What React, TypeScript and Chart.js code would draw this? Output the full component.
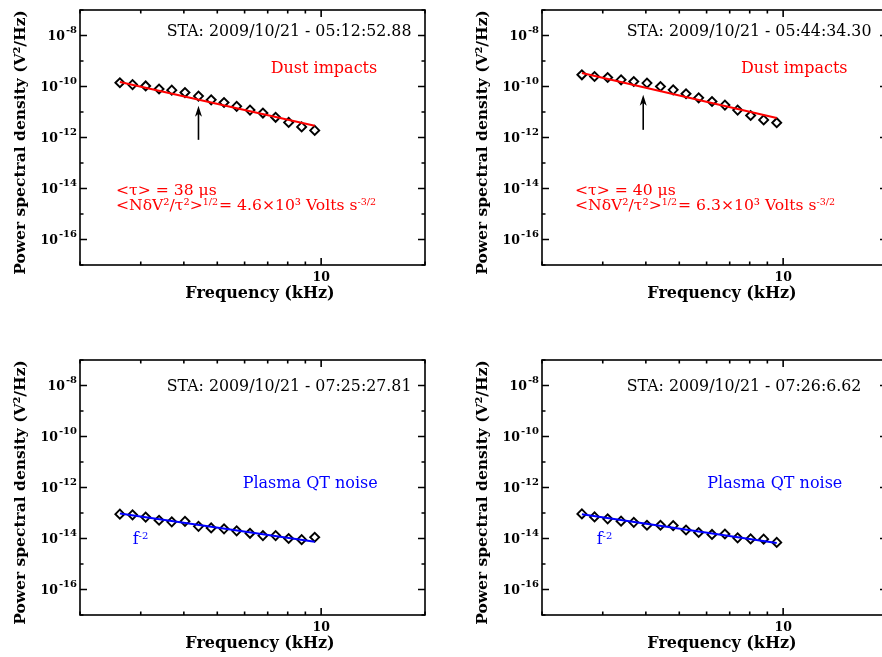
import React, { useEffect, useRef } from "react";
import { Chart, registerables } from "chart.js";

Chart.register(...registerables);

// ---------------- data ----------------
const FREQ_KHZ = [2.61, 2.84, 3.1, 3.39, 3.69, 4.03, 4.41, 4.8, 5.23, 5.69, 6.22, 6.78, 7.38, 8.05, 8.78, 9.58];
const FIT_FREQ_KHZ = [2.61, 9.58];

const PSD_051252 = [1.4e-10, 1.19e-10, 1.05e-10, 8.0e-11, 7.2e-11, 5.8e-11, 4.2e-11, 3.0e-11, 2.36e-11, 1.67e-11, 1.19e-11, 9.1e-12, 6.2e-12, 3.9e-12, 2.6e-12, 1.9e-12];
const FIT_051252 = [1.5e-10, 2.9e-12];

const PSD_054434 = [2.88e-10, 2.47e-10, 2.25e-10, 1.83e-10, 1.57e-10, 1.36e-10, 1.0e-10, 7.4e-11, 5.2e-11, 3.6e-11, 2.58e-11, 1.87e-11, 1.19e-11, 7.3e-12, 4.9e-12, 3.8e-12];
const FIT_054434 = [3.4e-10, 5.8e-12];

const PSD_072527 = [9.0e-14, 8.5e-14, 6.9e-14, 5.2e-14, 4.5e-14, 4.7e-14, 3.0e-14, 2.6e-14, 2.4e-14, 2.0e-14, 1.6e-14, 1.3e-14, 1.3e-14, 1.0e-14, 9.0e-15, 1.12e-14];
const FIT_072527 = [9.5e-14, 7.4e-15];

const PSD_072606 = [9.2e-14, 7.0e-14, 5.9e-14, 4.8e-14, 4.3e-14, 3.3e-14, 3.3e-14, 3.2e-14, 2.15e-14, 1.72e-14, 1.44e-14, 1.5e-14, 1.06e-14, 9.6e-15, 9.4e-15, 7.0e-15];
const FIT_072606 = [9.0e-14, 6.7e-15];

// arrows marking 1/(2 pi tau) in the dust panels
const ARROW_KHZ = [4.41, 3.93];
const ARROW_TIP = [1.75e-11, 4.7e-11];
const ARROW_TAIL = [8.1e-13, 2.0e-12];

const TIME_LABELS = [
  "STA: 2009/10/21 - 05:12:52.88",
  "STA: 2009/10/21 - 05:44:34.30",
  "STA: 2009/10/21 - 07:25:27.81",
  "STA: 2009/10/21 - 07:26:6.62",
];
const TAU_LABELS = ["<τ> = 38 μs", "<τ> = 40 μs"];
const AMP_LABELS = ["4.6×10³", "6.3×10³"];

const X_TICKS_KHZ = [2, 3, 4, 5, 6, 7, 8, 9, 10, 20];
const X_LABELLED_KHZ = [10];
const Y_TICK_EXPONENTS = [-17, -16, -15, -14, -13, -12, -11, -10, -9, -8, -7];
const Y_LABELLED_EXPONENTS = [-16, -14, -12, -10, -8];

const X_MIN = 2;
const X_MAX = 20;
const Y_MIN = 1e-17;
const Y_MAX = 1e-7;

// ---------------- styling ----------------
const RED = "#ff0000";
const BLUE = "#0000ff";
const SERIF = '"DejaVu Serif", serif';
const CANVAS_W = 441;
const CANVAS_H = 320;
const AREA_LEFT = 80;
const AREA_TOP = 10;
const AREA_RIGHT = 425;
const AREA_BOTTOM = 265;

type Seg = { t: string; sup?: boolean };
type Note = { segs: Seg[]; dx: number; dy: number; color: string; size: number; supSize?: number };

type PanelCfg = {
  psd: number[];
  fit: number[];
  fitColor: string;
  notes: Note[];
  arrow?: { f: number; tip: number; tail: number };
};

function drawRich(ctx: CanvasRenderingContext2D, segs: Seg[], x: number, y: number, size: number, supSize: number, raise: number) {
  let cx = x;
  for (const s of segs) {
    ctx.font = `normal ${s.sup ? supSize : size}px ${SERIF}`;
    ctx.fillText(s.t, cx, s.sup ? y - raise : y);
    cx += ctx.measureText(s.t).width + (s.sup ? 1 : 0);
  }
}

function makeDecor(cfg: PanelCfg) {
  return {
    id: "panelDecor",
    afterDraw(chart: any) {
      const { ctx, chartArea: ca, scales } = chart;
      const xs = scales.x;
      const ys = scales.y;
      ctx.save();
      // frame
      ctx.strokeStyle = "#000";
      ctx.lineWidth = 1.6;
      ctx.strokeRect(ca.left, ca.top, ca.right - ca.left, ca.bottom - ca.top);
      // inward ticks
      ctx.beginPath();
      for (const t of ys.ticks) {
        const py = ys.getPixelForValue(t.value);
        const e = Math.round(Math.log10(t.value));
        const len = Y_LABELLED_EXPONENTS.includes(e) ? 7 : 3.5;
        ctx.moveTo(ca.left, py);
        ctx.lineTo(ca.left + len, py);
        ctx.moveTo(ca.right, py);
        ctx.lineTo(ca.right - len, py);
      }
      for (const t of xs.ticks) {
        const px = xs.getPixelForValue(t.value);
        const len = X_LABELLED_KHZ.includes(t.value) ? 7 : 3.5;
        ctx.moveTo(px, ca.bottom);
        ctx.lineTo(px, ca.bottom - len);
        ctx.moveTo(px, ca.top);
        ctx.lineTo(px, ca.top + len);
      }
      ctx.stroke();

      // y tick labels 10^n
      ctx.fillStyle = "#000";
      ctx.textBaseline = "alphabetic";
      ctx.textAlign = "left";
      for (const t of ys.ticks) {
        const e = Math.round(Math.log10(t.value));
        if (!Y_LABELLED_EXPONENTS.includes(e)) continue;
        const py = ys.getPixelForValue(t.value);
        const expStr = "-" + Math.abs(e);
        ctx.font = `bold 10px ${SERIF}`;
        const w2 = ctx.measureText(expStr).width;
        ctx.font = `bold 12.5px ${SERIF}`;
        const w1 = ctx.measureText("10").width;
        const xr = ca.left - 3;
        ctx.fillText("10", xr - w2 - 1 - w1, py + 4.3);
        ctx.font = `bold 10px ${SERIF}`;
        ctx.fillText(expStr, xr - w2, py - 3);
      }
      // x tick labels
      ctx.textAlign = "center";
      ctx.font = `bold 12.5px ${SERIF}`;
      for (const t of xs.ticks) {
        if (!X_LABELLED_KHZ.includes(t.value)) continue;
        const px = xs.getPixelForValue(t.value);
        ctx.fillText(String(t.value), px, ca.bottom + 15.5);
      }
      // axis titles
      ctx.font = `bold 16px ${SERIF}`;
      ctx.fillText("Frequency (kHz)", ca.left + 180, ca.bottom + 33);
      ctx.save();
      ctx.translate(ca.left - 55, ca.top + 132.5);
      ctx.rotate(-Math.PI / 2);
      ctx.font = `bold 15.5px ${SERIF}`;
      ctx.fillText("Power spectral density (V²/Hz)", 0, 0);
      ctx.restore();

      // annotations
      ctx.textAlign = "left";
      for (const n of cfg.notes) {
        ctx.fillStyle = n.color;
        drawRich(ctx, n.segs, ca.left + n.dx, ca.top + n.dy, n.size, n.supSize ?? 10, 5.5);
      }

      // arrow
      if (cfg.arrow) {
        const ax = xs.getPixelForValue(cfg.arrow.f);
        const tipY = ys.getPixelForValue(cfg.arrow.tip);
        const tailY = ys.getPixelForValue(cfg.arrow.tail);
        ctx.strokeStyle = "#000";
        ctx.fillStyle = "#000";
        ctx.lineWidth = 1.6;
        ctx.beginPath();
        ctx.moveTo(ax, tailY);
        ctx.lineTo(ax, tipY + 6);
        ctx.stroke();
        ctx.beginPath();
        ctx.moveTo(ax, tipY);
        ctx.lineTo(ax - 3.5, tipY + 11);
        ctx.lineTo(ax, tipY + 8);
        ctx.lineTo(ax + 3.5, tipY + 11);
        ctx.closePath();
        ctx.fill();
      }
      ctx.restore();
    },
  };
}

function Panel({ cfg, left, top }: { cfg: PanelCfg; left: number; top: number }) {
  const ref = useRef<HTMLCanvasElement>(null);
  useEffect(() => {
    if (!ref.current) return;
    const chart = new Chart(ref.current, {
      type: "scatter",
      data: {
        datasets: [
          {
            data: FIT_FREQ_KHZ.map((f, i) => ({ x: f, y: cfg.fit[i] })),
            showLine: true,
            borderColor: cfg.fitColor,
            borderWidth: 2,
            pointRadius: 0,
            order: 0,
          },
          {
            data: FREQ_KHZ.map((f, i) => ({ x: f, y: cfg.psd[i] })),
            showLine: false,
            pointStyle: "rectRot",
            pointRadius: 4.5,
            borderColor: "#000",
            borderWidth: 1.9,
            backgroundColor: "rgba(0,0,0,0)",
            order: 1,
          },
        ],
      },
      options: {
        animation: false,
        responsive: false,
        devicePixelRatio: 1,
        layout: { padding: { left: 0, top: AREA_TOP, right: CANVAS_W - AREA_RIGHT, bottom: 0 } },
        plugins: { legend: { display: false }, tooltip: { enabled: false } },
        scales: {
          x: {
            type: "logarithmic",
            min: X_MIN,
            max: X_MAX,
            afterBuildTicks: (s: any) => {
              s.ticks = X_TICKS_KHZ.map((v) => ({ value: v }));
            },
            afterFit: (s: any) => {
              s.height = CANVAS_H - AREA_BOTTOM;
            },
            ticks: { display: false },
            grid: { display: false, drawTicks: false },
            border: { display: false },
          },
          y: {
            type: "logarithmic",
            min: Y_MIN,
            max: Y_MAX,
            afterBuildTicks: (s: any) => {
              s.ticks = Y_TICK_EXPONENTS.map((e) => ({ value: Math.pow(10, e) }));
            },
            afterFit: (s: any) => {
              s.width = AREA_LEFT;
            },
            ticks: { display: false },
            grid: { display: false, drawTicks: false },
            border: { display: false },
          },
        },
      } as any,
      plugins: [makeDecor(cfg)],
    });
    return () => chart.destroy();
  }, [cfg]);
  return (
    <canvas
      ref={ref}
      width={CANVAS_W}
      height={CANVAS_H}
      style={{ position: "absolute", left, top, width: CANVAS_W, height: CANVAS_H }}
    />
  );
}

const dustNotes = (k: number, timeDx: number, labelDx: number, noteDx: number): Note[] => [
  { segs: [{ t: TIME_LABELS[k] }], dx: timeDx, dy: 26, color: "#000", size: 15.8 },
  { segs: [{ t: "Dust impacts" }], dx: labelDx, dy: 63.3, color: RED, size: 16 },
  { segs: [{ t: TAU_LABELS[k] }], dx: noteDx, dy: 185, color: RED, size: 15.6 },
  {
    segs: [
      { t: "<NδV²/τ²>" },
      { t: "1/2", sup: true },
      { t: "= " + AMP_LABELS[k] + " Volts s" },
      { t: "-3/2", sup: true },
    ],
    dx: noteDx,
    dy: 200,
    color: RED,
    size: 15.6,
    supSize: 9.5,
  },
];

const plasmaNotes = (k: number, timeDx: number, labelDx: number, fDx: number): Note[] => [
  { segs: [{ t: TIME_LABELS[k] }], dx: timeDx, dy: 30.5, color: "#000", size: 15.8 },
  { segs: [{ t: "Plasma QT noise" }], dx: labelDx, dy: 128, color: BLUE, size: 16 },
  { segs: [{ t: "f" }, { t: "-2", sup: true }], dx: fDx, dy: 184, color: BLUE, size: 16 },
];

const PANELS: { cfg: PanelCfg; left: number; top: number }[] = [
  {
    left: 0,
    top: 0,
    cfg: {
      psd: PSD_051252,
      fit: FIT_051252,
      fitColor: RED,
      notes: dustNotes(0, 86.7, 190.7, 36),
      arrow: { f: ARROW_KHZ[0], tip: ARROW_TIP[0], tail: ARROW_TAIL[0] },
    },
  },
  {
    left: 462,
    top: 0,
    cfg: {
      psd: PSD_054434,
      fit: FIT_054434,
      fitColor: RED,
      notes: dustNotes(1, 84.7, 199, 33),
      arrow: { f: ARROW_KHZ[1], tip: ARROW_TIP[1], tail: ARROW_TAIL[1] },
    },
  },
  {
    left: 0,
    top: 350,
    cfg: {
      psd: PSD_072527,
      fit: FIT_072527,
      fitColor: BLUE,
      notes: plasmaNotes(2, 86.7, 162.7, 52.7),
    },
  },
  {
    left: 462,
    top: 350,
    cfg: {
      psd: PSD_072606,
      fit: FIT_072606,
      fitColor: BLUE,
      notes: plasmaNotes(3, 84.7, 165.3, 54.7),
    },
  },
];

export default function App() {
  return (
    <div
      style={{
        position: "fixed",
        left: 0,
        top: 0,
        width: 882,
        height: 657,
        overflow: "hidden",
        background: "#fff",
      }}
    >
      {PANELS.map((p, i) => (
        <Panel key={i} cfg={p.cfg} left={p.left} top={p.top} />
      ))}
    </div>
  );
}
